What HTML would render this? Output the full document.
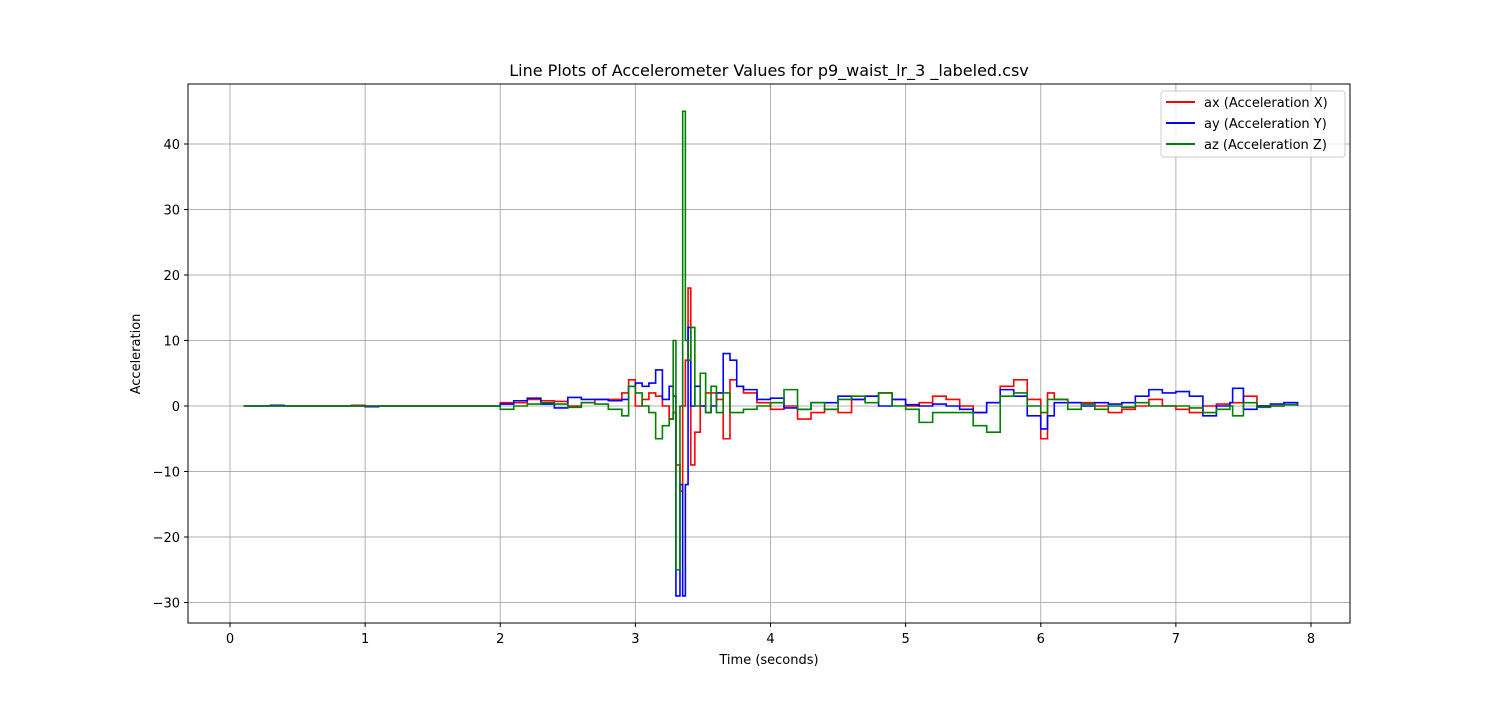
<!DOCTYPE html>
<html><head><meta charset="utf-8"><style>
body{margin:0;background:#fff;font-family:"Liberation Sans","DejaVu Sans",sans-serif;}
svg text{font-family:"DejaVu Sans","Liberation Sans",sans-serif;}
</style></head><body>
<svg id="c" width="1500" height="700" xmlns="http://www.w3.org/2000/svg">
<rect width="1500" height="700" fill="#fff"/>
<g id="grid"></g>
<g id="series"></g>
<rect x="188" y="84" width="1162" height="539" fill="none" stroke="#000" stroke-width="1"/>
<g id="axes"></g>
<text x="769" y="76" font-size="16" text-anchor="middle">Line Plots of Accelerometer Values for p9_waist_lr_3 _labeled.csv</text>
<text x="769" y="664" font-size="13" text-anchor="middle">Time (seconds)</text>
<text x="140" y="354" font-size="13" text-anchor="middle" transform="rotate(-90 140 354)">Acceleration</text>
<g>
<rect x="1161" y="91" width="184" height="66" fill="#fff" fill-opacity="0.8" stroke="#ccc" rx="3"/>
<g><line x1="1166" y1="102" x2="1195" y2="102" stroke="red" stroke-width="2"/><text x="1204" y="107" font-size="13">ax (Acceleration X)</text></g>
<g><line x1="1166" y1="123" x2="1195" y2="123" stroke="blue" stroke-width="2"/><text x="1204" y="128" font-size="13">ay (Acceleration Y)</text></g>
<g><line x1="1166" y1="144" x2="1195" y2="144" stroke="green" stroke-width="2"/><text x="1204" y="149" font-size="13">az (Acceleration Z)</text></g>
</g>
</svg>
<script>
const times=[0.1,0.2,0.3,0.4,0.5,0.6,0.7,0.8,0.9,1.0,1.1,1.2,1.3,1.4,1.5,1.6,1.7,1.8,1.9,2.0,2.1,2.2,2.3,2.4,2.5,2.6,2.7,2.8,2.9,2.95,3.0,3.05,3.1,3.15,3.2,3.25,3.28,3.3,3.33,3.35,3.37,3.39,3.41,3.44,3.48,3.52,3.56,3.6,3.65,3.7,3.75,3.8,3.9,4.0,4.1,4.2,4.3,4.4,4.5,4.6,4.7,4.8,4.9,5.0,5.1,5.2,5.3,5.4,5.5,5.6,5.7,5.8,5.9,6.0,6.05,6.1,6.2,6.3,6.4,6.5,6.6,6.7,6.8,6.9,7.0,7.1,7.2,7.3,7.4,7.42,7.5,7.6,7.7,7.8,7.9];
const axVals=[0,0,0,0,0,0,0,0,0.1,0,0,0,0,0,0,0,0,0,0,0.5,0.5,1,0.8,0.7,0,0.5,1,1,2,4,0,1,2,1.5,0,-2,-1,-9,-13,0,7,18,-9,-4,0,2,2,1,-5,4,3,2,0.5,-0.5,0,-2,-1,-0.5,-1,1,1.5,2,1,0,0.5,1.5,1,0,-1,0.5,3,4,1,-5,2,1,0.5,0.5,0,-1,-0.5,0,1,0,-0.5,-1,0,0.3,0.5,0.5,1.5,0,0,0.5,0];
const ayVals=[0,0,0.1,0,0,0,0,0,0,-0.1,0,0,0,0,0,0,0,0,0,0.3,0.8,1.2,0.3,-0.3,1.3,1,1,0.8,1,3,3.5,3,3.5,5.5,1,3,1.5,-29,-12,-29,-12,12,0,3,0,-1,0,2,8,7,3,2.5,1,1.2,-0.3,-0.5,0.5,0.5,1.5,1,1.5,0,1,0.2,0,0.3,0,-0.5,-1,0.5,2.5,1.5,-1.5,-3.5,-1.5,0.5,0.5,0,0.5,0.3,0.5,1.5,2.5,2,2.2,1.5,-1.5,0,0.5,2.7,-0.5,0,0.3,0.5,0];
const azVals=[0,0,0,0,0,0,0,0,0,0,0,0,0,0,0,0,0,0,0,-0.5,0,0.3,0.5,0.3,-0.2,0.5,0.3,-0.5,-1.5,3,2,0,-1,-5,-3,-2,10,-25,0,45,10,7,12,0,5,-1,3,-1,2,-1,-1,-0.5,0,0.5,2.5,-0.5,0.5,-0.5,1,1.5,0.5,2,0,-0.5,-2.5,-1,-1,-1,-3,-4,1.5,2,0,-1,1,1,-0.5,0.3,-0.5,0,-0.2,0.5,0,0,0,-0.3,-1,-0.5,0,-1.5,0.5,-0.2,0,0.2,0];
const xTicks=[0,1,2,3,4,5,6,7,8];
const yTicks=[-30,-20,-10,0,10,20,30,40];
const X=t=>230+t*135.125;
const Y=v=>406-v*6.55;
const NS="http://www.w3.org/2000/svg";
const grid=document.getElementById('grid'),axes=document.getElementById('axes'),ser=document.getElementById('series');
function mk(tag,attrs,parent){const e=document.createElementNS(NS,tag);for(const k in attrs)e.setAttribute(k,attrs[k]);parent.appendChild(e);return e;}
xTicks.forEach(t=>{
 const g=mk('line',{x1:X(t),x2:X(t),y1:84,y2:623,stroke:'#b0b0b0','stroke-width':1},grid);
 
 
 mk('line',{x1:X(t),x2:X(t),y1:623,y2:627,stroke:'#000'},axes);
 const tx=mk('text',{x:X(t),y:643,'font-size':13,'text-anchor':'middle'},axes);
 tx.textContent=t;
 
 
});
yTicks.forEach(v=>{
 const g=mk('line',{x1:188,x2:1350,y1:Y(v),y2:Y(v),stroke:'#b0b0b0','stroke-width':1},grid);
 
 
 mk('line',{x1:184,x2:188,y1:Y(v),y2:Y(v),stroke:'#000'},axes);
 const tx=mk('text',{x:180,y:Y(v)+5,'font-size':13,'text-anchor':'end'},axes);
 tx.textContent=v<0?'\u2212'+(-v):v;
 
 
});
[[axVals,'red','ax-line'],[ayVals,'blue','ay-line'],[azVals,'green','az-line']].forEach(([vals,col,name])=>{
 let d='M'+X(times[0])+','+Y(vals[0]);
 for(let i=1;i<times.length;i++){d+=' H'+X(times[i])+' V'+Y(vals[i]);}
 const p=mk('path',{d:d,fill:'none',stroke:col,'stroke-width':1.6,'stroke-linejoin':'miter'},ser);
 
 
});
</script>
</body></html>
